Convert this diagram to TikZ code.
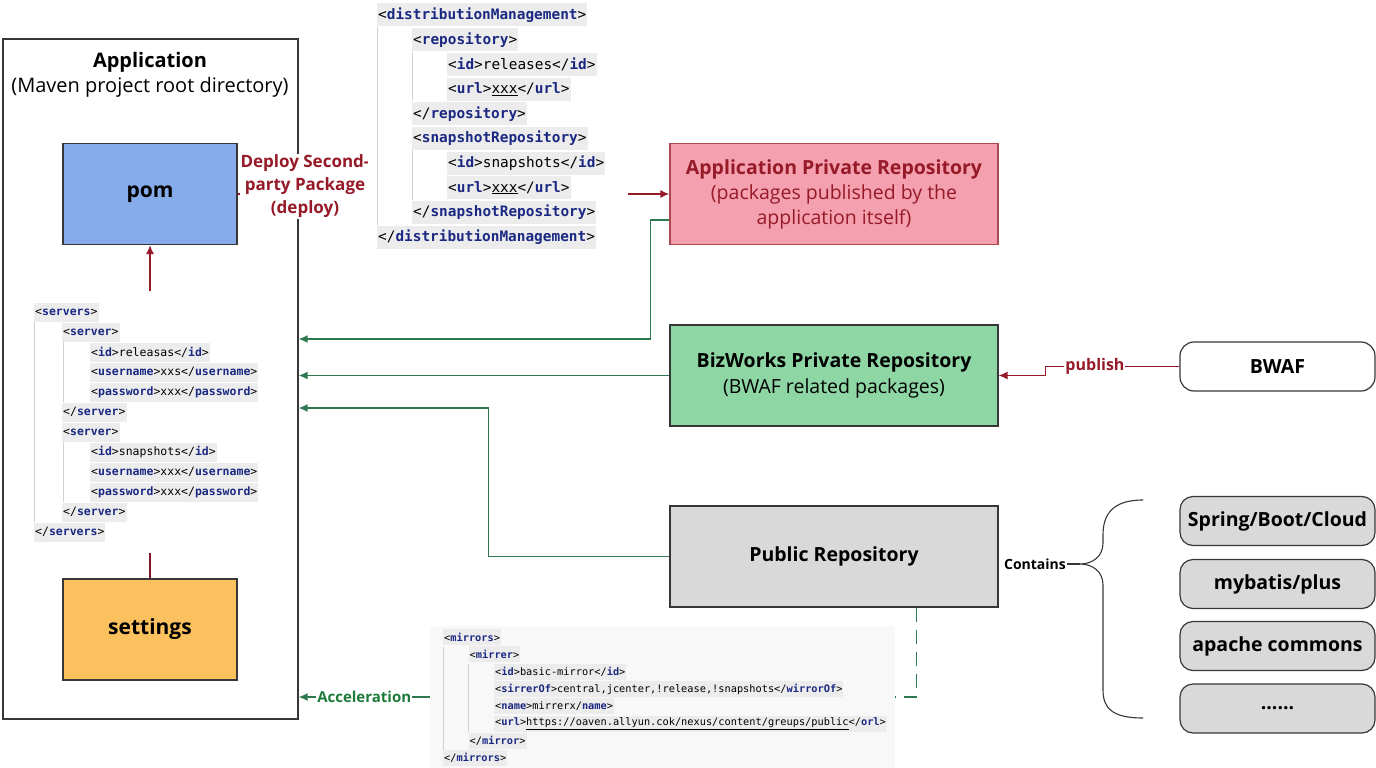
\documentclass[tikz,border=0pt]{standalone}
\usepackage{fontspec}
\setmainfont{Open Sans}
\setmonofont{DejaVu Sans Mono}
\usetikzlibrary{arrows.meta}
\usetikzlibrary{positioning}

\definecolor{pomblue}{RGB}{135,172,236}
\definecolor{setorange}{RGB}{251,193,95}
\definecolor{apppink}{RGB}{244,160,174}
\definecolor{bizgreen}{RGB}{142,214,164}
\definecolor{pubgray}{RGB}{217,217,217}
\definecolor{deployred}{RGB}{150,26,40}
\definecolor{linkgreen}{RGB}{46,120,80}
\definecolor{accgreen}{RGB}{30,123,60}
\definecolor{tagblue}{RGB}{26,40,130}
\definecolor{codebg}{RGB}{236,236,236}
\definecolor{mirrorbg}{RGB}{248,248,248}
\definecolor{edgegray}{RGB}{55,55,55}

\newcommand{\xopen}[1]{<\textbf{\textcolor{tagblue}{#1}}>}
\newcommand{\xclose}[1]{</\textbf{\textcolor{tagblue}{#1}}>}
\newcommand{\srvfont}{\fontsize{11.5}{13}\selectfont\ttfamily}
\newcommand{\distfont}{\fontsize{14.4}{16}\selectfont\ttfamily}
\newcommand{\mirfont}{\fontsize{10.3}{12}\selectfont\ttfamily}

\begin{document}
\begin{tikzpicture}
[x=1pt,y=-1pt,%
  boxDecorate/.style={draw=edgegray,line width=1.2pt,align=center,minimum width=328pt,minimum height=101pt},%
  blockDecorate/.style={draw=edgegray,line width=1.2pt,minimum width=174pt,minimum height=101pt,font=\fontsize{21}{25}\selectfont\bfseries},%
  pillDecorate/.style={draw=edgegray,line width=1.2pt,rounded corners=13pt,minimum width=195pt,minimum height=49pt,font=\fontsize{19.5}{23}\selectfont\bfseries},%
  codeDecorate/.style={anchor=west,fill=codebg,inner xsep=1pt,inner ysep=0pt},%
  guideDecorate/.style={draw=black!18,line width=0.8pt},%
  redLine/.style={draw=deployred,line width=1.3pt,-{Latex[length=9pt,width=8pt]}},%
  greenLine/.style={draw=linkgreen,line width=1.3pt,-{Latex[length=9pt,width=8pt]}}]
\useasboundingbox (0,0) rectangle (1376,768);

%% application frame
\node[draw=edgegray,line width=1.3pt,minimum width=295pt,minimum height=680pt] (app) at (150.5,379) {};
\node[align=center,font=\fontsize{20}{25}\selectfont] (apptitle) at (150,75)
  {\textbf{Application}\\(Maven project root directory)};
\node[blockDecorate,fill=pomblue] (pom) at (150,194) {pom};
\node[blockDecorate,fill=setorange] (settings) at (150,629.5) {settings};

%% servers snippet
\node[minimum width=232pt,minimum height=262pt,inner sep=0pt] (srv) at (150,422) {};
\draw[guideDecorate] (34,322) -- (34,522);
\draw[guideDecorate] (63,342) -- (63,402);
\draw[guideDecorate] (63,442) -- (63,502);
\foreach \i/\lvl/\txt in {
  0/0/{\xopen{servers}}, 1/1/{\xopen{server}},
  2/2/{\xopen{id}releasas\xclose{id}}, 3/2/{\xopen{username}xxs\xclose{username}},
  4/2/{\xopen{password}xxx\xclose{password}}, 5/1/{\xclose{server}},
  6/1/{\xopen{server}}, 7/2/{\xopen{id}snapshots\xclose{id}},
  8/2/{\xopen{username}xxx\xclose{username}}, 9/2/{\xopen{password}xxx\xclose{password}},
  10/1/{\xclose{server}}, 11/0/{\xclose{servers}}}
{
  \node[codeDecorate,minimum height=19pt,font=\srvfont] (srv-\i) at ({34+28*\lvl},{312+20*\i}) {\txt};
}
\draw[redLine] (srv.north) -- (pom.south);
\draw[draw=deployred!85!black,line width=1.3pt] (srv.south) -- (settings.north);

%% repositories
\node[boxDecorate,fill=apppink,draw=deployred!80,text=deployred,font=\fontsize{19.5}{25}\selectfont] (apppriv) at (834,194)
  {\textbf{Application Private Repository}\\(packages published by the\\application itself)};
\node[boxDecorate,fill=bizgreen,font=\fontsize{19.5}{26}\selectfont] (biz) at (834,375.5)
  {\textbf{BizWorks Private Repository}\\(BWAF related packages)};
\node[boxDecorate,fill=pubgray,font=\fontsize{19.5}{25}\selectfont\bfseries] (pub) at (834,556.5) {Public Repository};
\node[draw=edgegray,line width=1.2pt,rounded corners=14pt,fill=white,minimum width=195pt,minimum height=49pt,
  font=\fontsize{19.5}{23}\selectfont\bfseries] (bwaf) at (1277.5,366.5) {BWAF};

%% deploy
\draw[redLine] (pom.east) -- (apppriv.west);
\node[fill=white,inner sep=1pt,align=center,text=deployred,font=\fontsize{17}{23}\selectfont\bfseries] (deploy) at (305,186)
  {Deploy Second-\\party Package\\(deploy)};
\node[fill=white,minimum width=260pt,minimum height=250pt,inner sep=0pt] (dist) at (498,125) {};
\draw[guideDecorate] (377,27) -- (377,225);
\draw[guideDecorate] (412,52) -- (412,100);
\draw[guideDecorate] (412,150) -- (412,200);
\foreach \i/\lvl/\txt in {
  0/0/{\xopen{distributionManagement}}, 1/1/{\xopen{repository}},
  2/2/{\xopen{id}releases\xclose{id}}, 3/2/{\xopen{url}\underline{xxx}\xclose{url}},
  4/1/{\xclose{repository}}, 5/1/{\xopen{snapshotRepository}},
  6/2/{\xopen{id}snapshots\xclose{id}}, 7/2/{\xopen{url}\underline{xxx}\xclose{url}},
  8/1/{\xclose{snapshotRepository}}, 9/0/{\xclose{distributionManagement}}}
{
  \node[codeDecorate,minimum height=23pt,font=\distfont] (dist-\i) at ({377+35*\lvl},{15+24.67*\i}) {\txt};
}

%% pull paths
\draw[greenLine] ([yshift=25pt]apppriv.south west) -- ++(-19,0) |- (app.east |- 0,339);
\draw[greenLine] (biz.west) -- (app.east |- biz.west);
\draw[greenLine] (pub.west) -- ++(-181,0) |- (app.east |- 0,408);
\draw[redLine] (bwaf.west) -- node[pos=0.63,fill=white,inner sep=1pt,text=deployred,
  font=\fontsize{16}{18}\selectfont\bfseries] (publish) {publish} ++(-134,0) |- (biz.east);

%% mirrors snippet
\node[fill=mirrorbg,minimum width=465pt,minimum height=142pt,inner sep=0pt] (mirrors) at (662.5,697) {};
\draw[guideDecorate] (443,647) -- (443,750);
\draw[guideDecorate] (468,664) -- (468,732);
\foreach \i/\lvl/\txt in {
  0/0/{\xopen{mirrors}}, 1/1/{\xopen{mirrer}},
  2/2/{\xopen{id}basic-mirror\xclose{id}},
  3/2/{\xopen{sirrerOf}central,jcenter,!release,!snapshots\xclose{wirrorOf}},
  4/2/{\xopen{name}mirrerx/\textbf{\textcolor{tagblue}{name}}>},
  5/2/{\xopen{url}\underline{https://oaven.allyun.cok/nexus/content/greups/public}\xclose{orl}},
  6/1/{\xclose{mirror}}, 7/0/{\xclose{mirrors}}}
{
  \node[codeDecorate,minimum height=16pt,font=\mirfont] (mir-\i) at ({443+25.5*\lvl},{637+17.3*\i}) {\txt};
}
\draw[draw=linkgreen,line width=1.3pt,dash pattern=on 14pt off 8pt] ([xshift=-82pt]pub.south east) |- (mirrors.east);
\draw[greenLine] (mirrors.west) -- node[fill=white,inner sep=1pt,text=accgreen,
  font=\fontsize{15}{18}\selectfont\bfseries] (accel) {Acceleration} (app.east |- mirrors.west);

%% contents of the public repository
\foreach \nodename/\y/\txt in {
  spring/521/{Spring/Boot/Cloud}, mybatis/584/{mybatis/plus},
  apache/646/{apache commons}, more/708.5/{......}}
{
  \node[pillDecorate,fill=pubgray] (\nodename) at (1277.5,\y) {\txt};
}
\node[inner sep=1pt,font=\fontsize{14}{16}\selectfont\bfseries] (contains) at (1035,564) {Contains};
\coordinate (bracetip) at (1080,564);
\draw[edgegray,line width=1.1pt] (contains.east) -- (bracetip);
\draw[edgegray,line width=1.1pt] (1143,500) .. controls (1112,500) and (1103,515) .. (1103,535) -- (1103,543)
  .. controls (1103,556) and (1093,564) .. (bracetip)
  .. controls (1093,564) and (1103,572) .. (1103,585) -- (1103,690)
  .. controls (1103,708) and (1112,718) .. (1143,718);
\end{tikzpicture}
\end{document}
